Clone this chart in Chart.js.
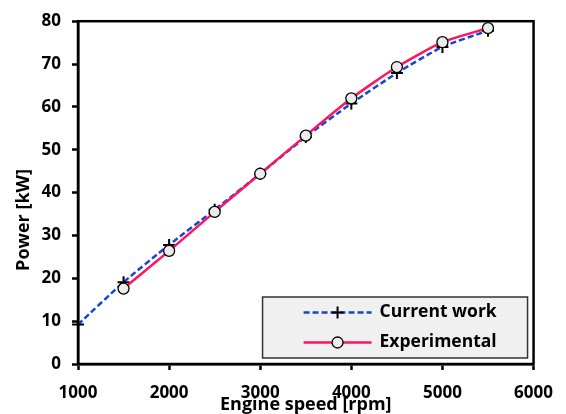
<!DOCTYPE html>
<html>
<head>
<meta charset="utf-8">
<script src="https://cdn.jsdelivr.net/npm/chart.js@4"></script>
<style>
  html, body { margin: 0; padding: 0; background: #fff; }
  #wrap { width: 566px; height: 414px; }
</style>
</head>
<body>
<div id="wrap"><canvas id="canvas" width="566" height="414"></canvas></div>
<script>
"use strict"

// engine speed [rpm]
const speedCurrent = [1000, 1500, 2000, 2500, 3000, 3500, 4000, 4500, 5000, 5500];
const powerCurrent = [9.2, 19.1, 27.8, 36.0, 44.4, 53.0, 60.8, 67.9, 74.0, 77.8];

const speedExp = [1500, 2000, 2500, 3000, 3500, 4000, 4500, 5000, 5500];
const powerExp = [17.6, 26.4, 35.5, 44.4, 53.3, 62.0, 69.3, 75.1, 78.4];

const xTicks = [1000, 2000, 3000, 4000, 5000, 6000];
const yTicks = [0, 10, 20, 30, 40, 50, 60, 70, 80];

const labelCurrent = 'Current work';
const labelExp = 'Experimental';
const xTitle = 'Engine speed [rpm]';
const yTitle = 'Power [kW]';

function toPoints(xs, ys) {
    return xs.map((x, i) => ({x: x, y: ys[i]}));
}

const FONT = '"Open Sans"';
Chart.defaults.font.family = FONT;
Chart.defaults.color = '#000';

// box round the plot area
const frame = {
    id: 'frame',
    afterDatasetsDraw(chart) {
        const a = chart.chartArea;
        const ctx = chart.ctx;
        ctx.save();
        ctx.strokeStyle = '#000';
        ctx.lineWidth = 2.5;
        ctx.strokeRect(a.left, a.top, a.right - a.left, a.bottom - a.top);
        ctx.restore();
    }
};

// y title sits a bit lower than the middle of the axis in the original
const yTitlePlugin = {
    id: 'yTitlePlugin',
    afterDraw(chart) {
        const ctx = chart.ctx;
        ctx.save();
        ctx.translate(24, 220);
        ctx.rotate(-Math.PI / 2);
        ctx.fillStyle = '#000';
        ctx.font = 'bold 18px ' + FONT;
        ctx.textAlign = 'center';
        ctx.textBaseline = 'middle';
        ctx.fillText(yTitle, 0, 0);
        ctx.restore();
    }
};

// legend box with line + marker samples
const boxLegend = {
    id: 'boxLegend',
    afterDraw(chart) {
        const a = chart.chartArea;
        const ctx = chart.ctx;
        const w = 265, h = 61;
        const x0 = a.right - 6 - w, y0 = a.bottom - 6 - h;
        ctx.save();
        ctx.fillStyle = '#f0f0f0';
        ctx.strokeStyle = '#333';
        ctx.lineWidth = 1.5;
        ctx.fillRect(x0, y0, w, h);
        ctx.strokeRect(x0, y0, w, h);

        const rows = [y0 + 15.5, y0 + 45.5];
        chart.data.datasets.forEach((ds) => {
            const y = rows[ds.legendRow];
            const mx = x0 + 75;
            ctx.save();
            ctx.strokeStyle = ds.borderColor;
            ctx.lineWidth = ds.borderWidth;
            ctx.setLineDash(ds.borderDash || []);
            ctx.beginPath();
            ctx.moveTo(x0 + 41, y);
            ctx.lineTo(x0 + 109, y);
            ctx.stroke();
            ctx.restore();
            ctx.fillStyle = ds.pointBackgroundColor;
            ctx.strokeStyle = ds.pointBorderColor;
            ctx.lineWidth = ds.pointBorderWidth;
            ctx.beginPath();
            if (ds.pointStyle === 'circle') {
                ctx.arc(mx, y, ds.pointRadius, 0, Math.PI * 2);
                ctx.fill();
                ctx.stroke();
            } else {
                ctx.moveTo(mx - ds.pointRadius, y);
                ctx.lineTo(mx + ds.pointRadius, y);
                ctx.moveTo(mx, y - ds.pointRadius);
                ctx.lineTo(mx, y + ds.pointRadius);
                ctx.stroke();
            }
            ctx.fillStyle = '#000';
            ctx.font = 'bold 17.5px ' + FONT;
            ctx.textAlign = 'left';
            ctx.textBaseline = 'middle';
            ctx.fillText(ds.label, x0 + 117, y);
        });
        ctx.restore();
    }
};

let ctx = document.getElementById('canvas').getContext('2d');
let myChart = new Chart(ctx, {
    type: 'line',
    data: {
        datasets: [{
            label: labelCurrent,
            data: toPoints(speedCurrent, powerCurrent),
            borderColor: 'rgb(20, 70, 210)',
            borderWidth: 2.5,
            borderDash: [6, 3],
            pointStyle: 'cross',
            pointRadius: 6,
            pointBorderWidth: 2,
            pointBorderColor: '#000',
            pointBackgroundColor: '#000',
            tension: 0.2,
            clip: false,
            order: 1,
            legendRow: 0
        }, {
            label: labelExp,
            data: toPoints(speedExp, powerExp),
            borderColor: 'rgb(255, 20, 100)',
            borderWidth: 2.5,
            pointStyle: 'circle',
            pointRadius: 5.5,
            pointBorderWidth: 1.3,
            pointBorderColor: '#000',
            pointBackgroundColor: '#ececec',
            tension: 0.2,
            order: 0,
            legendRow: 1
        }]
    },
    options: {
        responsive: false,
        animation: false,
        layout: { padding: { top: 19, right: 32, left: 0, bottom: 0 } },
        plugins: {
            legend: { display: false },
            tooltip: { enabled: false }
        },
        scales: {
            x: {
                type: 'linear',
                min: 1000,
                max: 6000,
                afterFit(scale) { scale.height = 50; },
                afterBuildTicks(scale) { scale.ticks = xTicks.map(v => ({value: v})); },
                ticks: { padding: 13, font: { size: 17, weight: 'bold' }, callback: v => String(v) },
                grid: { drawOnChartArea: false, tickLength: 6, tickWidth: 2.5, tickColor: '#000' },
                border: { color: '#000', width: 2.5 },
                title: { display: true, text: xTitle, padding: 0, font: { size: 18, weight: 'bold', lineHeight: 1 } }
            },
            y: {
                min: 0,
                max: 80,
                afterFit(scale) { scale.width = 78; },
                afterBuildTicks(scale) { scale.ticks = yTicks.map(v => ({value: v})); },
                ticks: { padding: 11, font: { size: 17, weight: 'bold' } },
                grid: { drawOnChartArea: false, tickLength: 6, tickWidth: 2.5, tickColor: '#000' },
                border: { color: '#000', width: 2.5 },
                title: { display: false }
            }
        }
    },
    plugins: [frame, boxLegend, yTitlePlugin]
});
</script>
</body>
</html>
